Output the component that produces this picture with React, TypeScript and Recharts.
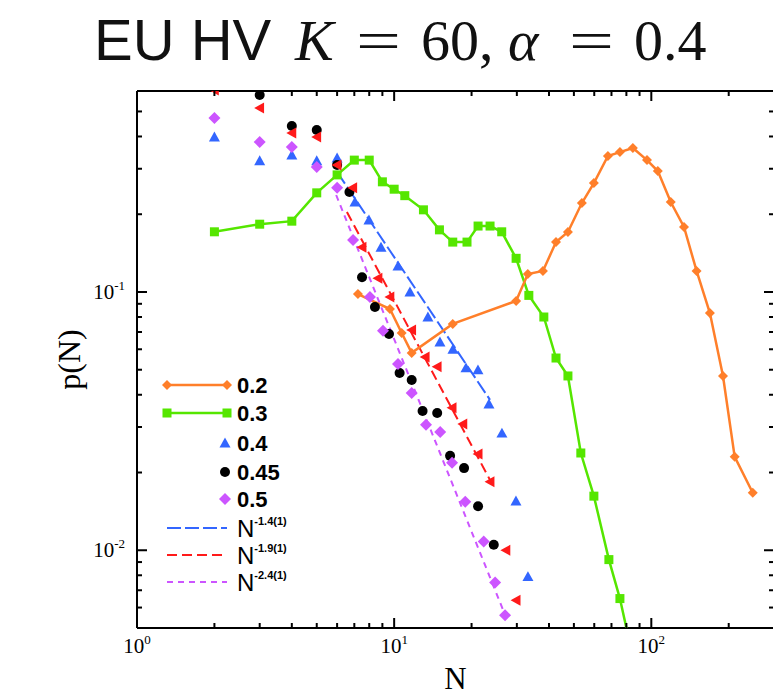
import { ScatterChart, Scatter, XAxis, YAxis, Legend } from 'recharts';

// colours
const ORANGE = '#ff7f2a';
const GREEN = '#55e600';
const BLUE = '#3366ff';
const MAGENTA = '#cc55ff';
const RED = '#ff1a1a';

// axis ticks (log decades)
const xTicks = [1, 2, 3, 4, 5, 6, 7, 8, 9, 10, 20, 30, 40, 50, 60, 70, 80, 90, 100, 200, 300];
const xMajor = [1, 10, 100];
const yTicks = [0.005, 0.006, 0.007, 0.008, 0.009, 0.01, 0.02, 0.03, 0.04, 0.05, 0.06, 0.07, 0.08, 0.09, 0.1, 0.2, 0.3, 0.4, 0.5, 0.6];
const yMajor = [0.01, 0.1];

// alpha = 0.2
const n02 = [7.23, 9.63, 10.7, 11.7, 16.9, 29.8, 33.1, 37.9, 42.6, 47.4, 53.7, 59.8, 67.8, 75.5, 84.8, 96.2, 106, 119, 134, 150, 169, 190, 211, 248];
const p02 = [0.0982, 0.0859, 0.0694, 0.0581, 0.0752, 0.0923, 0.1174, 0.1206, 0.156, 0.1707, 0.221, 0.264, 0.336, 0.348, 0.361, 0.324, 0.294, 0.223, 0.1785, 0.1206, 0.0829, 0.0473, 0.023, 0.0167];

// alpha = 0.3
const n03 = [2, 3, 4, 5, 6, 7, 8, 9, 10, 11, 13, 15, 16.9, 19.2, 21.2, 23.6, 26.2, 29.8, 33.4, 38.2, 42.6, 47.4, 53.2, 59.8, 68.4, 75.5, 85];
const p03 = [0.171, 0.183, 0.188, 0.242, 0.284, 0.324, 0.324, 0.267, 0.25, 0.236, 0.208, 0.174, 0.156, 0.156, 0.18, 0.18, 0.171, 0.135, 0.097, 0.08, 0.0555, 0.0473, 0.0238, 0.0162, 0.0092, 0.0065, 0.0038];

// alpha = 0.4
const n04 = [2, 3, 4, 5, 6, 7.04, 7.98, 8.89, 10.35, 11.52, 13.53, 15.07, 16.93, 19.02, 21.18, 23.37, 26.25, 29.76, 33.13];
const p04 = [0.398, 0.322, 0.339, 0.322, 0.33, 0.223, 0.19, 0.149, 0.126, 0.1, 0.08, 0.064, 0.06, 0.0508, 0.0499, 0.0368, 0.0284, 0.0155, 0.0079];

// alpha = 0.45
const n045 = [3, 4, 5, 6, 6.7, 7.5, 8.42, 9.55, 10.5, 11.7, 12.9, 14.7, 16.5, 18.7, 21.2, 24.4];
const p045 = [0.579, 0.439, 0.424, 0.31, 0.244, 0.114, 0.0875, 0.0688, 0.0486, 0.0456, 0.0346, 0.034, 0.0232, 0.0208, 0.0148, 0.0105];

// red triangles (no legend entry)
const nRed = [2, 3, 4, 5, 6, 6.9, 7.5, 8.65, 9.63, 11.7, 13.2, 14.7, 16.8, 18.5, 21.2, 23.6, 27.2, 29.8];
const pRed = [0.605, 0.516, 0.413, 0.398, 0.31, 0.253, 0.149, 0.113, 0.0956, 0.0713, 0.056, 0.0513, 0.0356, 0.0308, 0.0236, 0.0184, 0.01, 0.0064];

// alpha = 0.5
const n05 = [2, 3, 4, 5, 6, 6.92, 8.05, 9.05, 10.35, 11.7, 13.3, 15.1, 16.8, 18.9, 22.3, 24.7, 27];
const p05 = [0.472, 0.381, 0.364, 0.305, 0.253, 0.159, 0.0956, 0.0707, 0.0526, 0.0406, 0.0306, 0.0287, 0.0218, 0.0154, 0.0108, 0.0075, 0.0056];

// power-law guide lines (end points)
const nFit14 = [6, 23.6];
const pFit14 = [0.2915, 0.0382];
const nFit19 = [6.55, 23.6];
const pFit19 = [0.204, 0.0187];
const nFit24 = [5.95, 27];
const pFit24 = [0.2374, 0.00562];

const toPoints = (n: number[], p: number[]) => n.map((N, i) => ({ N, p: p[i] }));

const isMajor = (v: number, majors: number[]) => majors.some((m) => Math.abs(v - m) < m * 1e-6);

const SERIF = 'Liberation Serif, serif';
const SANS = 'Liberation Sans, Arial, sans-serif';

function diamond(cx: number, cy: number, r: number, fill: string) {
  return <polygon points={`${cx},${cy - r} ${cx + r},${cy} ${cx},${cy + r} ${cx - r},${cy}`} fill={fill} />;
}
function square(cx: number, cy: number, r: number, fill: string) {
  return <rect x={cx - r} y={cy - r} width={2 * r} height={2 * r} fill={fill} />;
}
function triUp(cx: number, cy: number, r: number, fill: string) {
  return <polygon points={`${cx},${cy - r} ${cx + r},${cy + r * 0.8} ${cx - r},${cy + r * 0.8}`} fill={fill} />;
}
function triLeft(cx: number, cy: number, r: number, fill: string) {
  return <polygon points={`${cx - r},${cy} ${cx + r * 0.8},${cy - r} ${cx + r * 0.8},${cy + r}`} fill={fill} />;
}
function dot(cx: number, cy: number, r: number, fill: string) {
  return <circle cx={cx} cy={cy} r={r} fill={fill} />;
}

function BottomTick(props: any) {
  const { x, y, payload } = props;
  const major = isMajor(payload.value, xMajor);
  return (
    <g>
      <line x1={x} x2={x} y1={y} y2={y - (major ? 10 : 5)} stroke="#000" strokeWidth={2} />
      {major && (
        <text x={x} y={y + 25} textAnchor="middle" fontFamily={SERIF} fontSize={21} fill="#000">
          10<tspan dy={-9} fontSize={13}>{Math.round(Math.log10(payload.value))}</tspan>
        </text>
      )}
    </g>
  );
}

function TopTick(props: any) {
  const { x, y, payload } = props;
  const major = isMajor(payload.value, xMajor);
  return <line x1={x} x2={x} y1={y} y2={y + (major ? 10 : 5)} stroke="#000" strokeWidth={2} />;
}

function LeftTick(props: any) {
  const { x, y, payload } = props;
  const major = isMajor(payload.value, yMajor);
  return (
    <g>
      <line x1={x} x2={x + (major ? 10 : 5)} y1={y} y2={y} stroke="#000" strokeWidth={2} />
      {major && (
        <text x={x - 12} y={y + 7} textAnchor="end" fontFamily={SERIF} fontSize={21} fill="#000">
          10<tspan dy={-9} fontSize={13}>{Math.round(Math.log10(payload.value))}</tspan>
        </text>
      )}
    </g>
  );
}

function RightTick(props: any) {
  const { x, y, payload } = props;
  const major = isMajor(payload.value, yMajor);
  return <line x1={x} x2={x - (major ? 10 : 5)} y1={y} y2={y} stroke="#000" strokeWidth={2} />;
}

const legendRows = [
  { label: '0.2', color: ORANGE, kind: 'line', mark: diamond, r: 5 },
  { label: '0.3', color: GREEN, kind: 'line', mark: square, r: 4.5 },
  { label: '0.4', color: BLUE, kind: 'mark', mark: triUp, r: 5.5 },
  { label: '0.45', color: '#000', kind: 'mark', mark: dot, r: 5 },
  { label: '0.5', color: MAGENTA, kind: 'mark', mark: diamond, r: 6 },
  { label: '-1.4(1)', color: BLUE, kind: 'fit', dash: '14 4' },
  { label: '-1.9(1)', color: RED, kind: 'fit', dash: '10 5' },
  { label: '-2.4(1)', color: MAGENTA, kind: 'fit', dash: '6 5' },
];
const legendRowY = [20, 48, 78, 107, 134, 163, 190, 217];

function renderLegend() {
  return (
    <svg width={180} height={235} style={{ display: 'block' }}>
      {legendRows.map((row: any, i) => {
        const y = legendRowY[i];
        return (
          <g key={row.label}>
            {row.kind === 'line' && (
              <g>
                <line x1={17} x2={77} y1={y} y2={y} stroke={row.color} strokeWidth={2.5} />
                {row.mark(17, y, row.r, row.color)}
                {row.mark(77, y, row.r, row.color)}
              </g>
            )}
            {row.kind === 'mark' && row.mark(75, y, row.r, row.color)}
            {row.kind === 'fit' && (
              <line x1={17} x2={77} y1={y} y2={y} stroke={row.color} strokeWidth={2} strokeDasharray={row.dash} />
            )}
            {row.kind === 'fit' ? (
              <text x={87} y={y + 9} fontFamily={SANS} fontSize={24} fill="#000">
                N<tspan dy={-12} fontSize={11} fontWeight="bold">{row.label}</tspan>
              </text>
            ) : (
              <text x={87} y={y + 8} fontFamily={SANS} fontWeight="bold" fontSize={22} fill="#000">
                {row.label}
              </text>
            )}
          </g>
        );
      })}
    </svg>
  );
}

const axisLine = { stroke: '#000', strokeWidth: 2 };

export default function App() {
  return (
    <div style={{ position: 'absolute', left: 0, top: 0, width: 773, height: 699, overflow: 'hidden', background: '#fff' }}>
      <ScatterChart width={776} height={699} margin={{ top: 90, right: 1, bottom: 0, left: 0 }}>
        <XAxis
          xAxisId="b"
          type="number"
          dataKey="N"
          scale="log"
          domain={[1, 300]}
          allowDataOverflow
          ticks={xTicks}
          interval={0}
          tickSize={0}
          tickMargin={0}
          tickLine={false}
          axisLine={axisLine}
          tick={<BottomTick />}
          height={71}
          label={{
            content: (p: any) => (
              <text x={p.viewBox.x + p.viewBox.width / 2} y={p.viewBox.y + 61} textAnchor="middle" fontFamily={SERIF} fontSize={31} fill="#000">
                N
              </text>
            ),
          }}
        />
        <XAxis
          xAxisId="t"
          orientation="top"
          type="number"
          dataKey="N"
          scale="log"
          domain={[1, 300]}
          allowDataOverflow
          ticks={xTicks}
          interval={0}
          tickSize={0}
          tickMargin={0}
          tickLine={false}
          axisLine={axisLine}
          tick={<TopTick />}
          height={1}
        />
        <YAxis
          yAxisId="l"
          type="number"
          dataKey="p"
          scale="log"
          domain={[0.005, 0.6]}
          allowDataOverflow
          ticks={yTicks}
          interval={0}
          tickSize={0}
          tickMargin={0}
          tickLine={false}
          axisLine={axisLine}
          tick={<LeftTick />}
          width={137}
          label={{
            content: (p: any) => (
              <text
                x={80}
                y={p.viewBox.y + p.viewBox.height / 2}
                transform={`rotate(-90 80 ${p.viewBox.y + p.viewBox.height / 2})`}
                textAnchor="middle"
                fontFamily={SERIF}
                fontSize={32}
                fill="#000"
              >
                p(N)
              </text>
            ),
          }}
        />
        <YAxis
          yAxisId="r"
          orientation="right"
          type="number"
          dataKey="p"
          scale="log"
          domain={[0.005, 0.6]}
          allowDataOverflow
          ticks={yTicks}
          interval={0}
          tickSize={0}
          tickMargin={0}
          tickLine={false}
          axisLine={axisLine}
          tick={<RightTick />}
          width={1}
        />
        <Legend
          layout="vertical"
          align="center"
          verticalAlign="middle"
          content={renderLegend}
          wrapperStyle={{ left: 150, top: 365, width: 180, height: 235 }}
        />
        <Scatter
          name="N^-1.4(1)"
          xAxisId="b"
          yAxisId="l"
          data={toPoints(nFit14, pFit14)}
          shape={() => <g />}
          line={{ stroke: BLUE, strokeWidth: 2, strokeDasharray: '14 4' }}
          isAnimationActive={false}
        />
        <Scatter
          name="N^-1.9(1)"
          xAxisId="b"
          yAxisId="l"
          data={toPoints(nFit19, pFit19)}
          shape={() => <g />}
          line={{ stroke: RED, strokeWidth: 2, strokeDasharray: '10 5' }}
          isAnimationActive={false}
        />
        <Scatter
          name="N^-2.4(1)"
          xAxisId="b"
          yAxisId="l"
          data={toPoints(nFit24, pFit24)}
          shape={() => <g />}
          line={{ stroke: MAGENTA, strokeWidth: 2, strokeDasharray: '6 5' }}
          isAnimationActive={false}
        />
        <Scatter
          name="0.3"
          xAxisId="b"
          yAxisId="l"
          data={toPoints(n03, p03)}
          fill={GREEN}
          line={{ stroke: GREEN, strokeWidth: 2.5 }}
          shape={(p: any) => square(p.cx, p.cy, 4.5, GREEN)}
          isAnimationActive={false}
        />
        <Scatter
          name="0.2"
          xAxisId="b"
          yAxisId="l"
          data={toPoints(n02, p02)}
          fill={ORANGE}
          line={{ stroke: ORANGE, strokeWidth: 2.5 }}
          shape={(p: any) => diamond(p.cx, p.cy, 5, ORANGE)}
          isAnimationActive={false}
        />
        <Scatter
          name="0.4"
          xAxisId="b"
          yAxisId="l"
          data={toPoints(n04, p04)}
          fill={BLUE}
          shape={(p: any) => triUp(p.cx, p.cy, 5.5, BLUE)}
          isAnimationActive={false}
        />
        <Scatter
          name="0.45"
          xAxisId="b"
          yAxisId="l"
          data={toPoints(n045, p045)}
          fill="#000"
          shape={(p: any) => dot(p.cx, p.cy, 5, '#000')}
          isAnimationActive={false}
        />
        <Scatter
          name="red"
          xAxisId="b"
          yAxisId="l"
          data={toPoints(nRed, pRed)}
          fill={RED}
          shape={(p: any) => triLeft(p.cx, p.cy, 5.5, RED)}
          isAnimationActive={false}
        />
        <Scatter
          name="0.5"
          xAxisId="b"
          yAxisId="l"
          data={toPoints(n05, p05)}
          fill={MAGENTA}
          shape={(p: any) => diamond(p.cx, p.cy, 6, MAGENTA)}
          isAnimationActive={false}
        />
      </ScatterChart>
      <svg width={773} height={80} style={{ position: 'absolute', left: 0, top: 0 }}>
        <g fill="#111" fontSize={58}>
          <text x={94} y={60} fontFamily={SANS}>EU HV</text>
          <text x={295} y={60} fontFamily={SERIF} fontStyle="italic">K</text>
          <text x={356} y={60} fontFamily={SERIF} textLength={45} lengthAdjust="spacingAndGlyphs">=</text>
          <text x={421} y={60} fontFamily={SERIF}>60,</text>
          <text x={508} y={60} fontFamily={SERIF} fontStyle="italic">α</text>
          <text x={569} y={60} fontFamily={SERIF} textLength={45} lengthAdjust="spacingAndGlyphs">=</text>
          <text x={634} y={60} fontFamily={SERIF}>0.4</text>
        </g>
      </svg>
    </div>
  );
}
